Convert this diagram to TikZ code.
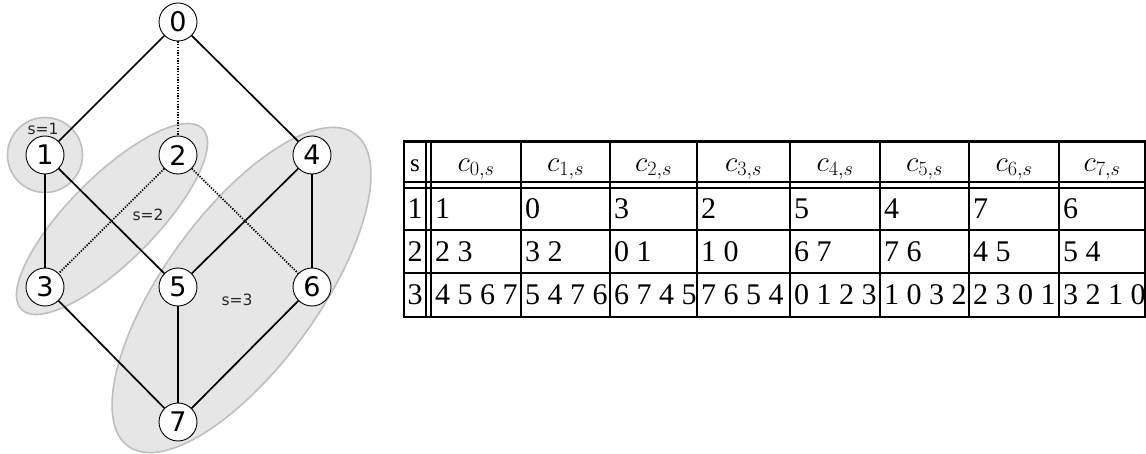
\RequirePackage{fix-cm}
\documentclass[tikz,border=0pt]{standalone}
\usepackage{fontspec}
\newfontfamily\graphfont{DejaVu Sans}
\newfontfamily\tabfont{Liberation Serif}
\definecolor{grpfill}{HTML}{E6E6E6}
\definecolor{grpline}{HTML}{BFBFBF}
\begin{document}
\begin{tikzpicture}[x=1pt,y=1pt,
  vert/.style={circle, draw=black, line width=0.9pt, fill=white, minimum size=38pt, inner sep=0pt, font=\graphfont\fontsize{27}{27}\selectfont},
  grp/.style={fill=grpfill, draw=grpline, line width=1.6pt},
  glabel/.style={font=\graphfont\fontsize{15.5}{15.5}\selectfont, text=black!85, inner sep=0pt},
  edge/.style={line width=1.7pt},
  dotedge/.style={line width=1.7pt, dash pattern=on 1.3pt off 1.4pt},
  tline/.style={line width=2pt},
  touter/.style={line width=2.6pt},
  cell/.style={anchor=base west, inner sep=0pt, font=\tabfont\fontsize{30}{30}\selectfont},
  scell/.style={anchor=base, inner sep=0pt, font=\tabfont\fontsize{30}{30}\selectfont},
  hcell/.style={anchor=base, inner sep=0pt, font=\tabfont\fontsize{25}{25}\selectfont},
  mcell/.style={anchor=base, inner sep=0pt, font=\fontsize{29}{29}\selectfont}]
\useasboundingbox (0,0) rectangle (1146,-454);

% groups
\draw[grp] (241.5,-290) [rotate around={54:(241.5,-290)}] ellipse [x radius=193pt, y radius=77pt];
\draw[grp] (112,-219) [rotate around={45:(112,-219)}] ellipse [x radius=128pt, y radius=43pt];
\draw[grp] (45,-155) circle [radius=37.5pt];
\node[glabel] (ls1) at (43,-129) {s=1};
\node[glabel] (ls2) at (148,-215) {s=2};
\node[glabel] (ls3) at (237,-300) {s=3};

% vertices
\node[vert] (n0) at (178,-22) {0};
\node[vert] (n1) at (45,-155) {1};
\node[vert] (n2) at (178,-155) {2};
\node[vert] (n4) at (312,-155) {4};
\node[vert] (n3) at (45,-287) {3};
\node[vert] (n5) at (178,-287) {5};
\node[vert] (n6) at (312,-287) {6};
\node[vert] (n7) at (178,-422) {7};

% edges
\draw[edge] (n0) -- (n1);
\draw[edge] (n0) -- (n4);
\draw[edge] (n1) -- (n3);
\draw[edge] (n1) -- (n5);
\draw[edge] (n4) -- (n5);
\draw[edge] (n4) -- (n6);
\draw[edge] (n3) -- (n7);
\draw[edge] (n5) -- (n7);
\draw[edge] (n6) -- (n7);
\draw[dotedge] (n0) -- (n2);
\draw[dotedge] (n2) -- (n3);
\draw[dotedge] (n2) -- (n6);

% table lines
\foreach \y in {182,188,230,273} \draw[tline] (404,-\y) -- (1145,-\y);
\foreach \x in {426,431,521,610,697,790,880,969,1059} \draw[tline] (\x,-141.5) -- (\x,-317);
\draw[touter] (404,-141.5) rectangle (1145,-317);

% header
\node[hcell] (hs) at (415,-171.3) {s};
\foreach \cx [count=\i from 0] in {476,565.5,653.5,743.5,835,924.5,1014,1102}
  \node[mcell] (h\i) at (\cx,-171.3) {$c_{\i,s}$};

% s column
\node[scell] (s1) at (415,-219) {1};
\node[scell] (s2) at (415,-261.5) {2};
\node[scell] (s3) at (415,-305) {3};

% body
\foreach \x/\a/\b/\c [count=\i from 0] in {
  435/1/2 3/4 5 6 7,
  525/0/3 2/5 4 7 6,
  614/3/0 1/6 7 4 5,
  701/2/1 0/7 6 5 4,
  794/5/6 7/0 1 2 3,
  884/4/7 6/1 0 3 2,
  973/7/4 5/2 3 0 1,
  1063/6/5 4/3 2 1 0}
{
  \node[cell] (ra\i) at (\x,-219) {\a};
  \node[cell] (rb\i) at (\x,-261.5) {\b};
  \node[cell] (rc\i) at (\x,-305) {\c};
}
\end{tikzpicture}
\end{document}
